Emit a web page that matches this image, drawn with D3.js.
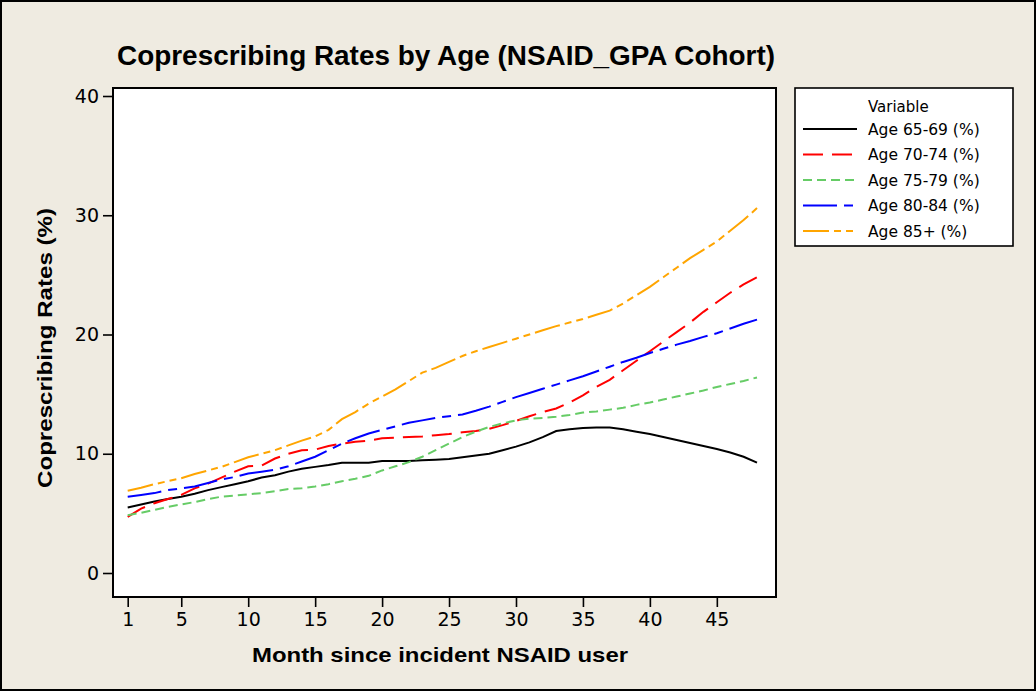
<!DOCTYPE html>
<html lang="en">
<head>
<meta charset="UTF-8">
<title>Coprescribing Rates by Age (NSAID_GPA Cohort)</title>
<script src="https://d3js.org/d3.v7.min.js"></script>
<style>
  body { margin: 0; background: #efebe1; }
  text { font-family: "DejaVu Sans", sans-serif; fill: #000; }
  .bold { font-family: "Liberation Sans", Arial, sans-serif; font-weight: bold; }
</style>
</head>
<body>
<script>
// data
const months = d3.range(1, 49);
const xTicks = [1, 5, 10, 15, 20, 25, 30, 35, 40, 45];
const yTicks = [0, 10, 20, 30, 40];
const seriesNames = ["Age 65-69 (%)", "Age 70-74 (%)", "Age 75-79 (%)", "Age 80-84 (%)", "Age 85+ (%)"];

const age6569 = [5.5, 5.75, 6.0, 6.2, 6.4, 6.65, 6.95, 7.2, 7.45, 7.7, 8.0, 8.2, 8.5, 8.75, 8.9, 9.05,
  9.25, 9.25, 9.25, 9.4, 9.4, 9.4, 9.45, 9.5, 9.55, 9.7, 9.85, 10.0, 10.3, 10.6, 10.95, 11.4,
  11.9, 12.05, 12.15, 12.2, 12.2, 12.05, 11.85, 11.65, 11.4, 11.15, 10.9, 10.65, 10.4, 10.1, 9.75, 9.25];
const age7074 = [4.7, 5.4, 5.85, 6.2, 6.55, 7.1, 7.5, 8.0, 8.5, 8.95, 9.0, 9.6, 10.0, 10.3, 10.35, 10.65,
  10.85, 11.0, 11.1, 11.3, 11.35, 11.4, 11.45, 11.55, 11.65, 11.8, 11.9, 12.1, 12.4, 12.75, 13.15, 13.5,
  13.8, 14.3, 14.9, 15.6, 16.2, 17.0, 17.8, 18.6, 19.4, 20.2, 21.0, 21.9, 22.7, 23.5, 24.2, 24.8];
const age7579 = [4.85, 5.05, 5.3, 5.55, 5.75, 5.95, 6.2, 6.4, 6.5, 6.6, 6.7, 6.85, 7.05, 7.1, 7.25, 7.45,
  7.7, 7.9, 8.15, 8.6, 8.95, 9.3, 9.75, 10.3, 10.85, 11.4, 11.85, 12.25, 12.55, 12.8, 12.95, 13.0,
  13.1, 13.25, 13.45, 13.55, 13.7, 13.85, 14.1, 14.3, 14.55, 14.8, 15.05, 15.3, 15.6, 15.85, 16.1, 16.4];
const age8084 = [6.4, 6.55, 6.7, 6.95, 7.1, 7.25, 7.55, 7.85, 8.05, 8.35, 8.5, 8.65, 8.95, 9.35, 9.75, 10.3,
  10.85, 11.3, 11.7, 12.0, 12.3, 12.6, 12.8, 13.0, 13.15, 13.3, 13.6, 13.95, 14.35, 14.75, 15.1, 15.45,
  15.8, 16.15, 16.5, 16.9, 17.3, 17.7, 18.05, 18.45, 18.8, 19.15, 19.45, 19.8, 20.1, 20.5, 20.9, 21.25];
const age85 = [6.9, 7.15, 7.45, 7.7, 7.95, 8.3, 8.6, 8.9, 9.3, 9.7, 10.0, 10.3, 10.7, 11.1, 11.45, 12.0,
  12.9, 13.5, 14.2, 14.8, 15.4, 16.1, 16.8, 17.2, 17.7, 18.2, 18.6, 18.95, 19.3, 19.65, 20.0, 20.35,
  20.7, 21.0, 21.3, 21.65, 22.0, 22.6, 23.3, 24.0, 24.8, 25.6, 26.4, 27.1, 27.8, 28.7, 29.6, 30.6];

const seriesValues = [age6569, age7074, age7579, age8084, age85];

// styles
const colors = ["#000000", "#ff0000", "#66cc66", "#0000ff", "#ffa500"];
const dashes = ["none", "20,9", "9,5", "34,7,9,7", "26,5,7,5,7,5"];

const width = 1036, height = 691;
const plot = {left: 113, right: 776, top: 88, bottom: 597};

const svg = d3.select("body").append("svg")
  .attr("width", width)
  .attr("height", height);

svg.append("rect")
  .attr("x", 1).attr("y", 1)
  .attr("width", width - 2).attr("height", height - 2)
  .attr("fill", "#efebe1")
  .attr("stroke", "#000")
  .attr("stroke-width", 2);

const x = d3.scaleLinear().domain([1, 48]).range([127.7, 757]);
const y = d3.scaleLinear().domain([0, 40]).range([573, 96]);

// plot area
svg.append("rect")
  .attr("x", plot.left).attr("y", plot.top)
  .attr("width", plot.right - plot.left).attr("height", plot.bottom - plot.top)
  .attr("fill", "#fff");

const xAxis = svg.append("g")
  .attr("transform", `translate(0,${plot.bottom})`)
  .call(d3.axisBottom(x).tickValues(xTicks).tickSize(10).tickPadding(6));

const yAxis = svg.append("g")
  .attr("transform", `translate(${plot.left},0)`)
  .call(d3.axisLeft(y).tickValues(yTicks).tickSize(10).tickPadding(4));

[xAxis, yAxis].forEach(g => {
  g.select(".domain").remove();
  g.selectAll(".tick line").attr("stroke", "#000").attr("stroke-width", 1.6);
  g.selectAll(".tick text")
    .style("font-family", '"DejaVu Sans", sans-serif')
    .style("font-size", "19px")
    .attr("fill", "#000");
});

// lines
const line = d3.line()
  .x((d, i) => x(months[i]))
  .y(d => y(d));

svg.append("g")
  .selectAll("path")
  .data(seriesValues)
  .join("path")
  .attr("d", d => line(d))
  .attr("fill", "none")
  .attr("stroke", (d, i) => colors[i])
  .attr("stroke-width", 2)
  .attr("stroke-dasharray", (d, i) => dashes[i]);

// plot border
svg.append("rect")
  .attr("x", plot.left).attr("y", plot.top)
  .attr("width", plot.right - plot.left).attr("height", plot.bottom - plot.top)
  .attr("fill", "none")
  .attr("stroke", "#000")
  .attr("stroke-width", 2);

// title and axis labels
svg.append("text")
  .attr("class", "bold")
  .attr("x", 117).attr("y", 65)
  .attr("textLength", 658)
  .attr("lengthAdjust", "spacingAndGlyphs")
  .style("font-size", "27px")
  .text("Coprescribing Rates by Age (NSAID_GPA Cohort)");

svg.append("text")
  .attr("class", "bold")
  .attr("x", 440).attr("y", 662)
  .attr("text-anchor", "middle")
  .attr("textLength", 376)
  .attr("lengthAdjust", "spacingAndGlyphs")
  .style("font-size", "21px")
  .text("Month since incident NSAID user");

svg.append("text")
  .attr("class", "bold")
  .attr("transform", "translate(52,348) rotate(-90)")
  .attr("text-anchor", "middle")
  .attr("textLength", 280)
  .attr("lengthAdjust", "spacingAndGlyphs")
  .style("font-size", "21px")
  .text("Coprescribing Rates (%)");

// legend
const legend = svg.append("g");
legend.append("rect")
  .attr("x", 795).attr("y", 88)
  .attr("width", 218).attr("height", 158)
  .attr("fill", "#fff")
  .attr("stroke", "#000")
  .attr("stroke-width", 1.6);

legend.append("text")
  .attr("x", 868).attr("y", 112)
  .style("font-size", "15px")
  .text("Variable");

const rows = legend.selectAll("g.row")
  .data(seriesNames)
  .join("g")
  .attr("class", "row")
  .attr("transform", (d, i) => `translate(0,${129 + i * 25.5})`);

rows.append("line")
  .attr("x1", 803).attr("x2", 857)
  .attr("stroke", (d, i) => colors[i])
  .attr("stroke-width", 2)
  .attr("stroke-dasharray", (d, i) => dashes[i]);

rows.append("text")
  .attr("x", 868).attr("y", 5.5)
  .style("font-size", "15.5px")
  .text(d => d);
</script>
</body>
</html>
